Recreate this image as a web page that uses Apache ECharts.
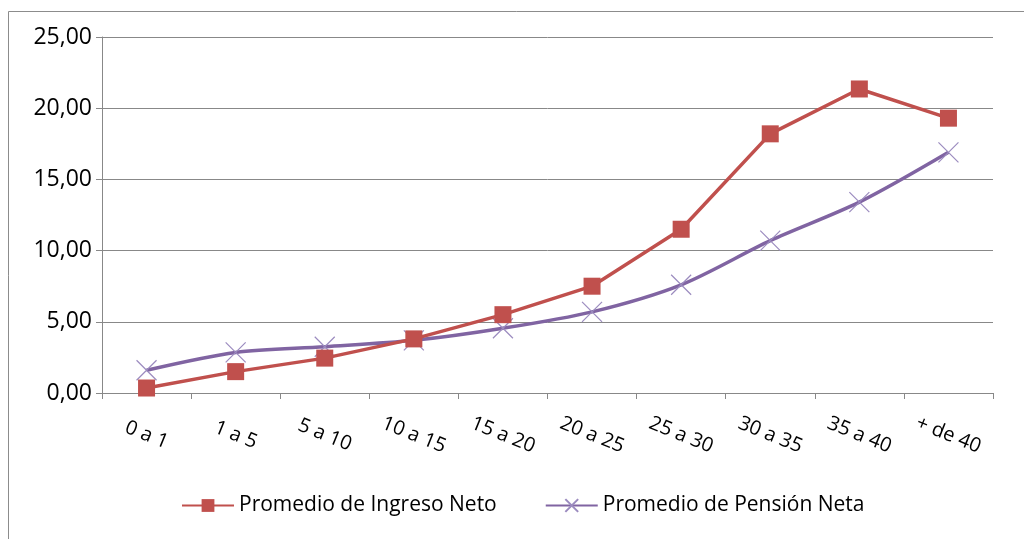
<!DOCTYPE html>
<html>
<head>
<meta charset="utf-8">
<script src="https://cdn.jsdelivr.net/npm/echarts@6/dist/echarts.min.js"></script>
<style>html,body{margin:0;padding:0;background:#fff}#c{width:1024px;height:539px}</style>
</head>
<body>
<div id="c"></div>
<script>
var categories = ['0 a 1','1 a 5','5 a 10','10 a 15','15 a 20','20 a 25','25 a 30','30 a 35','35 a 40','+ de 40'];
var ingresoNeto = [0.35, 1.5, 2.45, 3.8, 5.5, 7.5, 11.5, 18.2, 21.35, 19.3];
var pensionNeta = [1.6, 2.85, 3.25, 3.7, 4.55, 5.7, 7.6, 10.7, 13.4, 16.9];
var yTicks = { min: 0, max: 25, interval: 5 };

var FONT = '"Open Sans", Lato, sans-serif';
var chart = echarts.init(document.getElementById('c'));
chart.setOption({
  animation: false,
  backgroundColor: '#fff',
  graphic: [{
    type: 'rect', silent: true, z: -1,
    shape: { x: 8.5, y: 11.5, width: 1040, height: 560 },
    style: { fill: 'none', stroke: '#8c8c8c', lineWidth: 1 }
  }],
  grid: { left: 102, right: 31, top: 37, bottom: 146 },
  legend: {
    left: 176, top: 490, itemGap: 48, itemWidth: 52, itemHeight: 16,
    textStyle: { fontFamily: FONT, fontSize: 21, color: '#000' },
    data: ['Promedio de Ingreso Neto', 'Promedio de Pensión Neta']
  },
  xAxis: {
    type: 'category', data: categories, boundaryGap: true,
    axisLine: { lineStyle: { color: '#888', width: 1 } },
    axisTick: { show: true, interval: 0, length: 6, lineStyle: { color: '#888' } },
    axisLabel: { interval: 0, rotate: -22, align: 'center', verticalAlign: 'middle', margin: 42,
      fontFamily: FONT, fontSize: 20, color: '#000' }
  },
  yAxis: {
    type: 'value', min: yTicks.min, max: yTicks.max, interval: yTicks.interval,
    axisLine: { show: true, lineStyle: { color: '#888', width: 1 } },
    axisTick: { show: true, length: 6, lineStyle: { color: '#888' } },
    splitLine: { lineStyle: { color: '#888', width: 1 } },
    axisLabel: { margin: 10, fontFamily: FONT, fontSize: 23, color: '#000',
      formatter: function (v) { return v.toFixed(2).replace('.', ','); } }
  },
  series: [{
    name: 'Promedio de Ingreso Neto', type: 'line', data: ingresoNeto,
    symbol: 'rect', symbolSize: 17,
    lineStyle: { color: '#C0504D', width: 3.5 },
    itemStyle: { color: '#C0504D' }, z: 3
  }, {
    name: 'Promedio de Pensión Neta', type: 'line', data: pensionNeta,
    smooth: 0.3,
    symbol: 'path://M0,0L10,10M10,0L0,10', symbolSize: 20,
    lineStyle: { color: '#8064A2', width: 3.5 },
    itemStyle: { color: 'rgba(0,0,0,0)', borderColor: '#9b8bbf', borderWidth: 1.2 }, z: 2
  }]
});
</script>
</body>
</html>
